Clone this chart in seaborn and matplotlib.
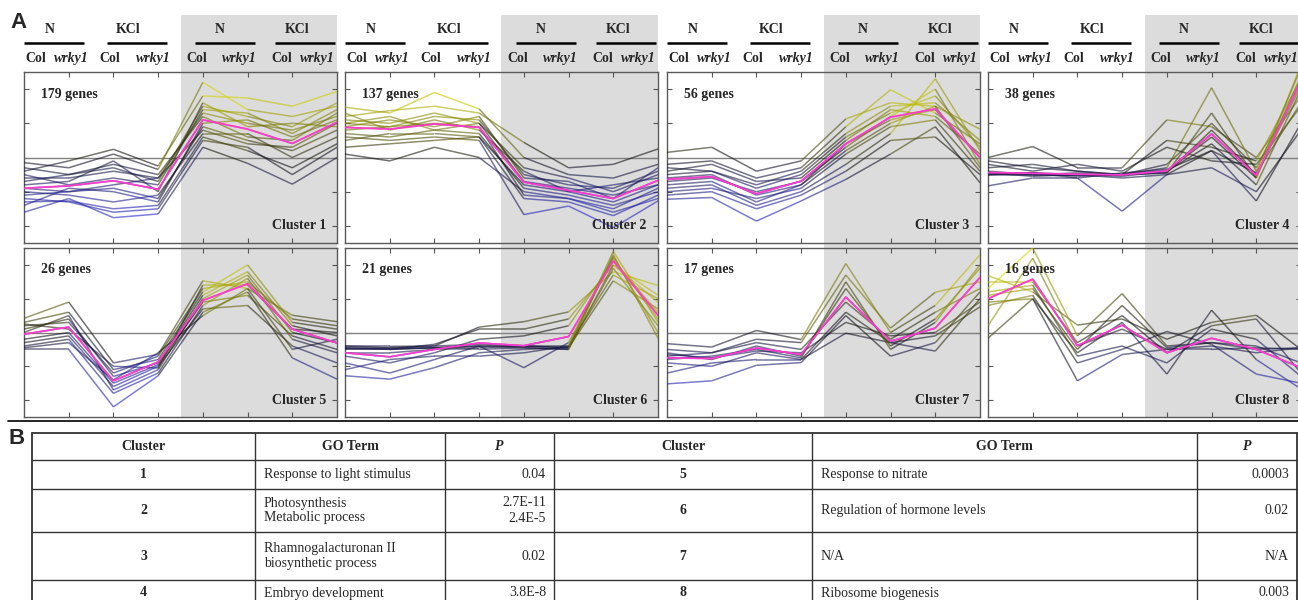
import numpy as np
import seaborn as sns
import matplotlib.pyplot as plt
import matplotlib.transforms as mtransforms
from matplotlib.collections import LineCollection
from matplotlib.colors import LinearSegmentedColormap, Normalize
from matplotlib.patches import Rectangle

# ---- data ----
positions = np.arange(8)
treatments = ["N", "KCl", "N", "KCl"]
genotypes = ["Col", "wrky1"] * 4
gene_counts = [179, 137, 56, 38, 26, 21, 17, 16]

# magenta mean profile of each cluster
mean_profiles = [
    [-0.9, -0.83, -0.68, -0.93, 1.1, 0.83, 0.41, 1.03],
    [0.88, 0.83, 0.98, 0.88, -0.72, -0.96, -1.2, -0.67],
    [-0.64, -0.56, -1.06, -0.69, 0.4, 1.18, 1.42, 0.0],
    [-0.44, -0.46, -0.49, -0.51, -0.39, 0.69, -0.52, 2.25],
    [-0.05, 0.16, -1.43, -0.87, 0.95, 1.44, 0.1, -0.31],
    [-0.6, -0.72, -0.5, -0.31, -0.39, -0.12, 2.12, 0.51],
    [-0.75, -0.77, -0.46, -0.65, 1.05, -0.26, 0.13, 1.63],
    [1.0, 1.58, -0.39, 0.22, -0.6, -0.17, -0.5, -1.04],
]

# a sample of individual gene profiles per cluster
cluster1_genes = [
    [-0.15, -0.3, 0.1, -0.35, 2.2, 1.4, 1.2, 1.5],
    [-0.4, -0.1, 0.24, -0.25, 1.8, 1.74, 1.5, 1.93],
    [-1.6, -1.2, -1.76, -1.65, 0.3, -0.17, -0.78, 0.0],
    [-1.3, -1.27, -1.5, -1.4, 0.6, 0.2, -0.3, 0.4],
    [-0.6, -0.6, -0.4, -0.6, 1.3, 1.0, 0.8, 1.2],
    [-1.1, -1.0, -0.9, -1.2, 0.9, 0.5, 0.2, 0.8],
    [-0.7, -0.5, -0.3, -0.7, 1.5, 1.2, 0.9, 1.6],
    [-1.0, -1.1, -1.3, -1.1, 0.7, 0.7, 0.0, 0.6],
    [-0.3, -0.5, -0.2, -0.5, 1.2, 0.6, 0.5, 1.3],
    [-1.4, -0.9, -1.0, -1.3, 1.0, 1.1, 0.6, 1.1],
    [-0.8, -0.7, -0.1, -1.0, 1.6, 0.9, 1.0, 0.9],
    [-1.2, -1.3, -1.6, -1.5, 0.5, 0.3, -0.5, 0.3],
    [-0.5, -0.8, -0.6, -0.8, 1.4, 1.3, 0.7, 1.4],
    [-0.9, -1.0, -0.8, -0.6, 0.8, 0.4, 0.3, 1.0],
]
cluster2_genes = [
    [1.47, 1.3, 1.9, 1.42, 0.0, -0.5, -0.6, -0.2],
    [1.2, 1.37, 1.5, 1.3, 0.44, -0.3, -0.2, 0.25],
    [0.1, -0.1, 0.3, 0.0, -1.0, -1.2, -1.5, -0.9],
    [0.6, 0.5, 0.6, 0.5, -1.67, -1.42, -2.05, -1.27],
    [1.0, 0.9, 1.2, 1.1, -0.5, -0.8, -0.9, -0.4],
    [0.7, 0.6, 0.8, 0.7, -0.9, -1.1, -1.4, -1.0],
    [1.1, 1.0, 1.3, 1.0, -0.3, -0.6, -1.0, -0.5],
    [0.5, 0.7, 0.7, 0.6, -1.2, -1.3, -1.7, -1.1],
    [0.9, 1.1, 0.9, 1.2, -0.6, -0.7, -1.2, -0.3],
    [0.3, 0.4, 0.5, 0.6, -0.8, -1.0, -1.3, -0.8],
    [1.3, 0.8, 1.1, 0.8, -0.4, -1.0, -0.8, -0.6],
    [0.8, 0.9, 1.0, 0.9, -1.1, -1.2, -1.6, -1.2],
    [1.0, 1.2, 0.8, 1.0, -0.7, -0.9, -1.1, -0.8],
]
cluster3_genes = [
    [0.15, 0.3, -0.4, -0.1, 1.13, 1.6, 1.5, 0.83],
    [-0.2, -0.1, -0.6, -0.3, 0.9, 1.98, 1.3, 0.4],
    [-1.22, -1.17, -1.86, -1.27, -0.64, 0.1, 0.9, -0.74],
    [-0.9, -0.8, -1.4, -1.0, -0.2, 0.7, 2.3, 0.2],
    [-0.5, -0.4, -0.9, -0.5, 0.6, 1.3, 1.8, 0.3],
    [-1.0, -0.9, -1.2, -0.9, 0.1, 0.9, 1.1, -0.4],
    [-0.3, -0.4, -0.8, -0.4, 0.7, 1.5, 1.6, 0.5],
    [-0.8, -0.7, -1.3, -0.8, 0.2, 1.0, 1.5, -0.3],
    [-0.4, -0.2, -0.7, -0.6, 0.5, 1.4, 1.2, 0.1],
    [-0.7, -0.6, -1.0, -0.7, 0.3, 1.2, 2.0, -0.2],
    [-1.1, -1.0, -1.5, -1.1, -0.4, 0.5, 0.6, -0.5],
    [-0.6, -0.5, -1.1, -0.8, 0.4, 1.1, 1.4, 0.0],
]
cluster4_genes = [
    [0.0, 0.32, -0.3, -0.3, 1.1, 0.9, 0.0, 1.8],
    [-0.3, -0.2, -0.4, -0.5, -0.3, 2.04, -0.4, 2.6],
    [-0.83, -0.6, -0.6, -1.57, -0.5, 0.2, -1.27, 1.0],
    [-0.5, -0.45, -0.55, -0.5, -0.45, 1.3, -0.6, 2.4],
    [-0.4, -0.5, -0.5, -0.55, -0.4, 0.4, -0.8, 2.0],
    [-0.5, -0.5, -0.45, -0.5, -0.2, 1.0, -0.3, 2.2],
    [-0.2, -0.4, -0.2, -0.4, 0.3, -0.1, -0.2, 1.5],
    [-0.45, -0.55, -0.5, -0.6, -0.5, -0.3, -1.0, 0.8],
    [-0.45, -0.45, -0.5, -0.5, -0.4, 0.6, -0.6, 2.7],
    [-0.5, -0.45, -0.6, -0.45, -0.35, 0.2, -0.45, 1.6],
    [-0.1, -0.3, -0.4, -0.5, 0.5, 0.3, -0.1, 2.3],
    [-0.45, -0.5, -0.5, -0.5, -0.45, 0.8, -0.5, 2.1],
]
cluster5_genes = [
    [0.42, 0.9, -0.9, -0.65, 1.53, 1.3, 0.51, 0.32],
    [0.3, 0.6, -1.1, -0.8, 1.2, 2.0, 0.3, 0.1],
    [-0.5, -0.5, -2.2, -1.28, 0.6, 1.2, -0.75, -1.38],
    [-0.4, -0.2, -1.8, -1.2, 0.8, 1.6, -0.2, -0.6],
    [0.1, 0.4, -1.3, -0.9, 1.1, 1.8, 0.2, -0.1],
    [-0.3, -0.1, -1.6, -1.0, 0.7, 0.8, -0.4, -0.9],
    [0.2, 0.3, -1.2, -0.7, 1.3, 1.5, 0.4, 0.2],
    [-0.2, 0.0, -1.5, -0.95, 0.9, 1.1, -0.1, -0.5],
    [0.0, 0.5, -1.7, -1.1, 1.0, 1.7, 0.0, -0.3],
    [-0.45, -0.3, -1.4, -0.6, 0.5, 1.3, -0.5, -0.2],
    [0.25, 0.1, -1.0, -1.05, 1.4, 1.4, 0.1, 0.0],
]
cluster6_genes = [
    [-0.41, -0.41, -0.4, 0.16, 0.32, 0.61, 1.8, 1.39],
    [-0.45, -0.5, -0.35, 0.1, 0.1, 0.4, 2.0, 1.1],
    [-1.28, -1.38, -1.04, -0.6, -0.5, -0.45, 2.4, 0.3],
    [-0.5, -0.5, -0.45, -0.4, -0.45, -0.5, 2.3, -0.17],
    [-0.45, -0.45, -0.4, -0.35, -0.4, -0.45, 1.53, 0.7],
    [-0.9, -1.2, -0.8, -0.4, -1.04, -0.3, 2.2, 0.4],
    [-0.6, -0.6, -0.5, -0.5, -0.45, -0.5, 2.0, 0.9],
    [-0.5, -0.5, -0.45, -0.45, -0.4, -0.45, 1.9, 0.2],
    [-0.7, -0.9, -0.6, -0.2, -0.1, 0.2, 2.1, 0.6],
    [-1.1, -0.8, -0.7, -0.7, -0.6, -0.4, 1.7, 1.0],
    [-0.4, -0.45, -0.45, -0.4, -0.4, -0.4, 2.25, 0.0],
]
cluster7_genes = [
    [-0.33, -0.43, 0.06, -0.21, 2.04, 0.0, 0.8, 2.3],
    [-0.5, -0.6, -0.2, -0.3, 1.7, 0.13, 1.19, 1.5],
    [-1.52, -1.43, -0.97, -0.89, 0.5, -0.7, -0.3, 1.2],
    [-1.2, -0.9, -0.8, -0.8, -0.02, -0.3, -0.1, 0.76],
    [-0.6, -0.8, -0.4, -0.7, 1.3, -0.4, 0.4, 1.9],
    [-0.9, -1.0, -0.6, -0.8, 0.6, -0.3, -0.55, 1.0],
    [-0.7, -0.6, -0.3, -0.5, 0.9, -0.2, 0.6, 1.3],
    [-0.8, -0.7, -0.5, -0.75, 1.5, -0.5, 0.3, 2.0],
    [-0.65, -0.75, -0.55, -0.6, 0.3, -0.1, 0.0, 0.9],
]
cluster8_genes = [
    [1.68, 1.2, 0.22, 0.4, -0.2, 0.3, 0.51, -0.5],
    [1.3, 2.5, -0.1, 1.15, -0.4, -0.3, -0.4, -0.9],
    [-0.17, 1.0, -1.43, -0.65, -0.5, -0.4, -0.6, -0.45],
    [0.9, 1.0, -0.6, 0.3, -1.23, 0.66, -0.8, -1.67],
    [1.1, 1.3, -0.5, 0.8, -0.45, -0.3, -0.5, -0.45],
    [0.8, 1.1, -0.9, -0.5, 0.03, -0.35, -1.23, -1.5],
    [1.5, 1.5, -0.3, 0.5, -0.6, 0.2, 0.4, -1.2],
    [0.2, 2.2, -0.4, 0.1, -0.5, -0.5, -0.45, -0.5],
    [1.2, 1.4, -0.7, -0.4, -0.9, 0.1, -0.2, -1.3],
]
cluster_genes = [cluster1_genes, cluster2_genes, cluster3_genes, cluster4_genes,
                 cluster5_genes, cluster6_genes, cluster7_genes, cluster8_genes]

# GO table (panel B)
table_header = ["Cluster", "GO Term", "P"]
left_clusters = ["1", "2", "3", "4"]
left_terms = ["Response to light stimulus", "Photosynthesis\nMetabolic process",
              "Rhamnogalacturonan II\nbiosynthetic process", "Embryo development"]
left_p = ["0.04", "2.7E-11\n2.4E-5", "0.02", "3.8E-8"]
right_clusters = ["5", "6", "7", "8"]
right_terms = ["Response to nitrate", "Regulation of hormone levels", "N/A", "Ribosome biogenesis"]
right_p = ["0.0003", "0.02", "N/A", "0.003"]

# ---- style ----
sns.set_style("white")
plt.rcParams['font.family'] = ['Liberation Serif', 'DejaVu Serif']

W, H = 1298, 600
fig = plt.figure(figsize=(W / 100, H / 100), dpi=100)

def px_axes(left, top, width, height):
    return fig.add_axes([left / W, 1 - (top + height) / H, width / W, height / H])

cmap = LinearSegmentedColormap.from_list("byk", ["#2828d0", "#121212", "#d6d600"])
norm = Normalize(-1.8, 1.8)

col_lefts = [24, 345, 667, 988]
col_w = 313
row_tops = [72, 248]
row_hs = [171, 169]

# header layout (x in data units)
group_x = [0.58, 2.33, 4.38, 6.1]
group_lines = [(0.0, 1.34), (1.86, 3.2), (3.82, 5.17), (5.62, 6.96)]
geno_x = [0.26, 1.05, 1.92, 2.9, 3.87, 4.82, 5.76, 6.57]

axes = []
for i in range(8):
    r, c = divmod(i, 4)
    ax = px_axes(col_lefts[c], row_tops[r], col_w, row_hs[r])
    ax.set_facecolor("none")
    axes.append(ax)

    genes = np.array(cluster_genes[i] + [mean_profiles[i]])
    segs, cols = [], []
    for g in genes:
        for k in range(len(positions) - 1):
            segs.append([(positions[k], g[k]), (positions[k + 1], g[k + 1])])
            cols.append(cmap(norm((g[k] + g[k + 1]) / 2)))
    ax.add_collection(LineCollection(segs, colors=cols, linewidths=1.1, alpha=0.6, zorder=3))

    ax.axhline(0, color="#808080", lw=1.0, zorder=2)
    sns.lineplot(x=positions, y=mean_profiles[i], ax=ax, color="#ff3cd0", lw=1.3, zorder=5)

    ax.set_xlim(0, 7)
    ax.set_ylim(-2.5, 2.5)
    ax.set_xticks(range(1, 7))
    ax.set_yticks([-2, -1, 0, 1, 2])
    ax.tick_params(direction="in", length=3.5, width=0.8, color="#555555",
                   top=True, right=True, bottom=True, left=True,
                   labelbottom=False, labelleft=False)
    for s in ax.spines.values():
        s.set_color("#5a5a5a")
        s.set_linewidth(1.0)
    ax.set_xlabel("")
    ax.set_ylabel("")

    ax.text(0.38, 0.87, f"{gene_counts[i]} genes", transform=mtransforms.blended_transform_factory(ax.transData, ax.transAxes),
            fontsize=10, fontweight="bold", ha="left", va="center")
    ax.text(6.75, 0.1, f"Cluster {i + 1}", transform=mtransforms.blended_transform_factory(ax.transData, ax.transAxes),
            fontsize=10, fontweight="bold", ha="right", va="center")

# grey shading of the second half, through the header
for c in range(4):
    top_ax = axes[c]
    tr = mtransforms.blended_transform_factory(top_ax.transData, fig.transFigure)
    y0 = 1 - 417 / H
    y1 = 1 - 15 / H
    fig.add_artist(Rectangle((3.5, y0), 3.5, y1 - y0, transform=tr,
                             facecolor="#dcdcdc", edgecolor="none", zorder=-1))

    # header labels
    trh = mtransforms.blended_transform_factory(top_ax.transData, top_ax.transAxes)
    for g in range(4):
        top_ax.text(group_x[g], 1.246, treatments[g], transform=trh, fontsize=10,
                    fontweight="bold", ha="center", va="center", clip_on=False)
        top_ax.plot(group_lines[g], [1.17, 1.17], transform=trh, color="black",
                    lw=1.8, clip_on=False, solid_capstyle="butt")
    for k in range(8):
        style = "italic" if genotypes[k] == "wrky1" else "normal"
        top_ax.text(geno_x[k], 1.08, genotypes[k], transform=trh, fontsize=10,
                    fontweight="bold", fontstyle=style, ha="center", va="center", clip_on=False)

fig.text(10 / W, 1 - 22 / H, "A", fontsize=16, fontweight="bold", family="Liberation Sans",
         ha="left", va="center")

# ---- panel B: table ----
tab = fig.add_axes([0, 0, 1, 180 / H])
tab.set_xlim(0, W)
tab.set_ylim(600, 420)
tab.axis("off")
tab.plot([8, W], [421, 421], color="black", lw=1.2)
tab.text(8, 438, "B", fontsize=16, fontweight="bold", family="Liberation Sans", ha="left", va="center")

col_edges = [32, 255, 445, 554, 812, 1197, 1297]
row_edges = [433, 460, 489, 532, 580]
for x in col_edges:
    tab.plot([x, x], [row_edges[0], 600], color="#333333", lw=1.3 if x in (32, 1297) else 1.0)
for y in row_edges:
    tab.plot([col_edges[0], col_edges[-1]], [y, y], color="#333333", lw=1.3 if y == 433 else 1.0)

head_y = (row_edges[0] + row_edges[1]) / 2
row_mid = [(row_edges[j] + row_edges[j + 1]) / 2 for j in range(1, 4)] + [593]
for side in range(2):
    e = col_edges[side * 3: side * 3 + 4]
    tab.text((e[0] + e[1]) / 2, head_y, table_header[0], fontsize=10, fontweight="bold", ha="center", va="center")
    tab.text((e[1] + e[2]) / 2, head_y, table_header[1], fontsize=10, fontweight="bold", ha="center", va="center")
    tab.text((e[2] + e[3]) / 2, head_y, table_header[2], fontsize=10, fontweight="bold", fontstyle="italic",
             ha="center", va="center")
    clusters = left_clusters if side == 0 else right_clusters
    terms = left_terms if side == 0 else right_terms
    pvals = left_p if side == 0 else right_p
    for j in range(4):
        tab.text((e[0] + e[1]) / 2, row_mid[j], clusters[j], fontsize=10, fontweight="bold", ha="center", va="center")
        tab.text(e[1] + 9, row_mid[j], terms[j], fontsize=10, ha="left", va="center", linespacing=1.2)
        tab.text(e[3] - 8, row_mid[j], pvals[j], fontsize=10, ha="right", va="center", linespacing=1.2)

fig.savefig("out.png", dpi=100)
